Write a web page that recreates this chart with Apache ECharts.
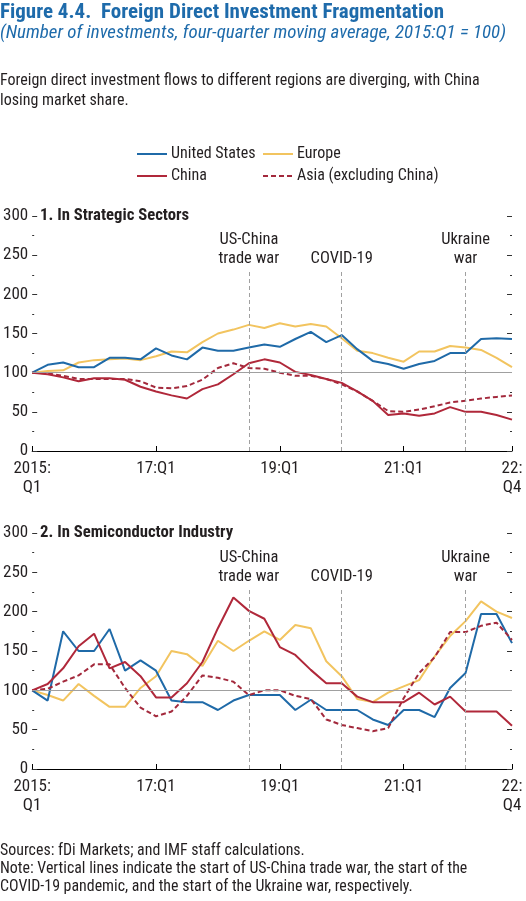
<!DOCTYPE html>
<html><head><meta charset="utf-8">
<script src="https://cdn.jsdelivr.net/npm/echarts@6/dist/echarts.min.js"></script>
<style>html,body{margin:0;padding:0;background:#fff}#c{width:526px;height:901px}</style>
</head><body><div id="c"></div>
<script>
const FONT = '"Liberation Sans Narrow","Roboto Condensed",Roboto,sans-serif';
const categories = ['2015Q1','2015Q2','2015Q3','2015Q4','2016Q1','2016Q2','2016Q3','2016Q4',
  '2017Q1','2017Q2','2017Q3','2017Q4','2018Q1','2018Q2','2018Q3','2018Q4',
  '2019Q1','2019Q2','2019Q3','2019Q4','2020Q1','2020Q2','2020Q3','2020Q4',
  '2021Q1','2021Q2','2021Q3','2021Q4','2022Q1','2022Q2','2022Q3','2022Q4'];
const tickLabels = {'2015Q1':'2015:\nQ1','2017Q1':'17:Q1','2019Q1':'19:Q1','2021Q1':'21:Q1','2022Q4':'22:\nQ4'};

// Panel 1: strategic sectors
const s1US     = [100,110,113,107,107,119,119,117,131,122,117,132,128,128,132,136,133,143,152,139,148,130,115,111,105,111,115,125,125,143,144,143];
const s1Europe = [100,102,103,113,116,117,118,116,121,127,126,139,150,155,161,157,163,159,162,159,144,128,125,119,114,127,127,134,132,129,119,107];
const s1China  = [100,98,94,89,93,93,91,82,76,71,67,79,85,98,112,117,113,101,97,92,87,76,64,46,48,45,48,56,50,50,46,40];
const s1Asia   = [100,99,96,92,92,92,92,89,81,80,83,91,106,112,106,105,100,96,96,92,85,76,64,51,50,53,57,62,64,67,69,71];

// Panel 2: semiconductor industry
const s2US     = [100,87,175,150,150,178,125,138,125,87,85,85,75,87,94,94,94,75,88,75,75,75,63,56,75,75,66,103,122,197,197,160];
const s2Europe = [100,94,87,108,93,79,79,103,118,150,146,131,163,150,163,175,164,183,179,137,118,89,85,97,105,113,143,169,188,213,200,192];
const s2China  = [100,108,128,156,172,128,136,118,91,91,109,136,179,218,201,191,155,145,126,109,109,92,85,85,85,97,82,92,73,73,73,55];
const s2Asia   = [100,102,111,119,133,133,103,78,67,73,93,119,116,111,94,100,100,93,89,63,56,52,48,52,90,122,142,174,174,182,186,164];

const events = [
  {at:'2018Q3', label:'US-China\ntrade war'},
  {at:'2020Q1', label:'COVID-19'},
  {at:'2022Q1', label:'Ukraine\nwar'}
];
const eventTop = 230;

const C = {us:'#1f6aa8', eu:'#f2c45f', cn:'#b0283a', asia:'#a3293c', txt:'#231f20', grey:'#a0a0a0'};

const chart = echarts.init(document.getElementById('c'));

function xAxis(g){
  return {type:'category', gridIndex:g, data:categories, boundaryGap:false,
    axisLine:{show:true, lineStyle:{color:'#000', width:1}},
    axisTick:{show:true, inside:true, length:5, lineStyle:{color:'#000'}, interval:(i,v)=>v in tickLabels},
    axisLabel:{interval:(i,v)=>v in tickLabels, formatter:v=>tickLabels[v]||'', color:C.txt, fontFamily:FONT, fontSize:17, lineHeight:19, margin:8, showMaxLabel:true},
    splitLine:{show:false}};
}
function yAxis(g, right){
  return {type:'value', gridIndex:g, min:0, max:300, interval:50, position: right?'right':'left',
    axisLine:{show:false},
    axisTick:{show:true, inside:true, length:5, lineStyle:{color:'#333'}},
    minorTick:{show:true, splitNumber:2, length:2, lineStyle:{color:'#333'}},
    axisLabel:{show:!right, color:C.txt, fontFamily:FONT, fontSize:17, margin:4},
    splitLine:{show:false}};
}
function eventMarks(){
  return {silent:true, symbol:'none', animation:false,
    lineStyle:{type:[4,3], color:C.grey, width:1},
    label:{show:true, position:'end', formatter:'{b}', color:C.txt, fontFamily:FONT, fontSize:16.5, lineHeight:19, distance:2},
    data: events.map(e=>[{name:e.label, coord:[e.at,0]},{coord:[e.at,eventTop]}])};
}
function refMark(){
  return {silent:true, symbol:'none', animation:false, label:{show:false},
    lineStyle:{type:'solid', color:C.grey, width:1}, data:[{yAxis:100}]};
}
function line(name, data, g, color, dashed, extra){
  return Object.assign({name, type:'line', data, xAxisIndex:g, yAxisIndex:g*2, symbol:'none', showSymbol:false,
    lineStyle:{color, width:2, type: dashed?[5,3]:'solid'}, itemStyle:{color}, animation:false, z:3}, extra||{});
}

function legend(name, left, top){
  return {data:[name], left, top, itemWidth:30, itemHeight:10, itemGap:0, padding:0, selectedMode:false,
    itemStyle:{opacity:0, borderWidth:0},
    textStyle:{color:C.txt, fontFamily:FONT, fontSize:16, padding:[0,0,0,-1]}};
}

chart.setOption({
  animation:false,
  title:[
    {text:'Figure 4.4.  Foreign Direct Investment Fragmentation', left:0, top:2, padding:0,
      textStyle:{color:'#1e6bab', fontFamily:FONT, fontSize:21, fontWeight:'bold'}},
    {text:'(Number of investments, four-quarter moving average, 2015:Q1 = 100)', left:0, top:24, padding:0,
      textStyle:{color:'#1e6bab', fontFamily:FONT, fontSize:18.9, fontStyle:'italic', fontWeight:'normal'}},
    {text:'Foreign direct investment flows to different regions are diverging, with China\nlosing market share.', left:0, top:71, padding:0,
      textStyle:{color:C.txt, fontFamily:FONT, fontSize:16, fontWeight:'normal', lineHeight:20}},
    {text:'1. In Strategic Sectors', left:40, top:207, padding:0,
      textStyle:{color:C.txt, fontFamily:FONT, fontSize:16.7, fontWeight:'bold'}},
    {text:'2. In Semiconductor Industry', left:40, top:524, padding:0,
      textStyle:{color:C.txt, fontFamily:FONT, fontSize:16.7, fontWeight:'bold'}},
    {text:'Sources: fDi Markets; and IMF staff calculations.\nNote: Vertical lines indicate the start of US-China trade war, the start of the\nCOVID-19 pandemic, and the start of the Ukraine war, respectively.', left:0, top:842, padding:0,
      textStyle:{color:C.txt, fontFamily:FONT, fontSize:15.9, fontWeight:'normal', lineHeight:18}}
  ],
  legend:[
    legend('United States',136,146),
    legend('Europe',262,146),
    legend('China',136,168),
    legend('Asia (excluding China)',262,168)
  ],
  grid:[
    {left:29, right:14, top:216, height:235},
    {left:29, right:14, top:533, height:236}
  ],
  xAxis:[xAxis(0), xAxis(1)],
  yAxis:[yAxis(0,false), yAxis(0,true), yAxis(1,false), yAxis(1,true)],
  series:[
    line('Europe', s1Europe, 0, C.eu, false, {markLine:refMark()}),
    line('United States', s1US, 0, C.us, false, {markLine:eventMarks()}),
    line('Asia (excluding China)', s1Asia, 0, C.asia, true),
    line('China', s1China, 0, C.cn, false),
    line('Europe', s2Europe, 1, C.eu, false, {markLine:refMark()}),
    line('United States', s2US, 1, C.us, false, {markLine:eventMarks()}),
    line('Asia (excluding China)', s2Asia, 1, C.asia, true),
    line('China', s2China, 1, C.cn, false)
  ]
});
</script></body></html>
